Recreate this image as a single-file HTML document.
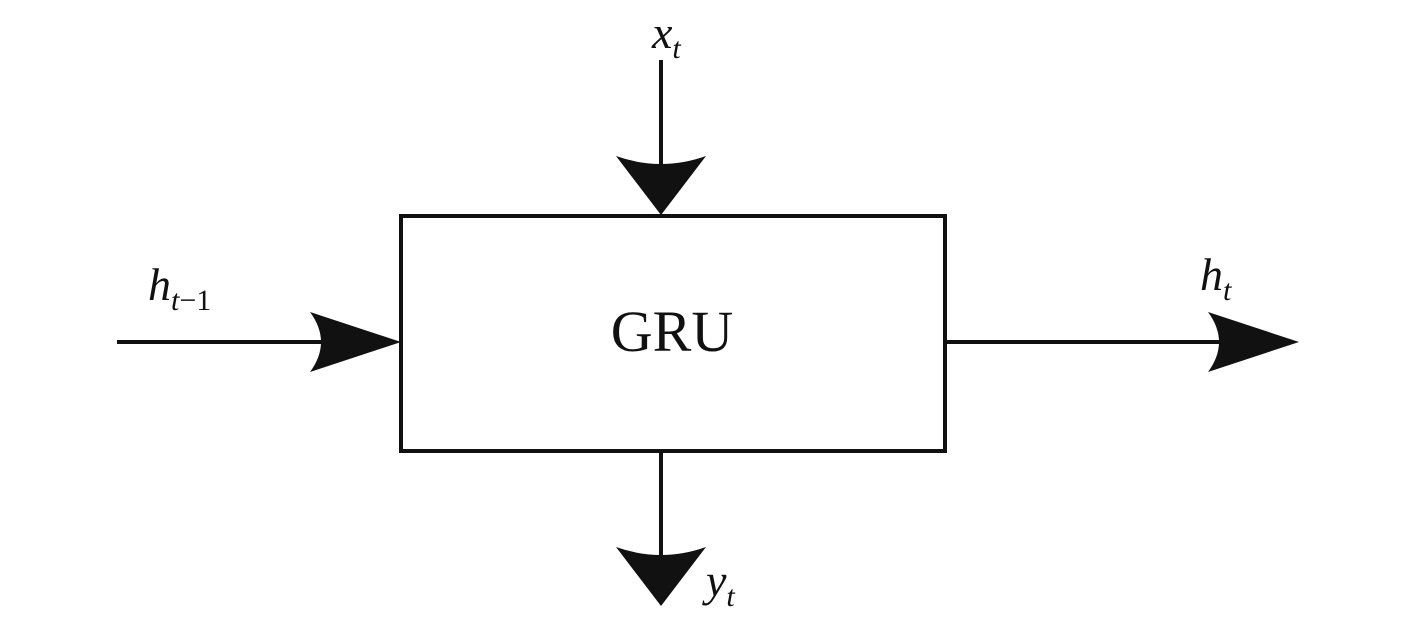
<!DOCTYPE html>
<html><head><style>body{margin:0;background:#fff}</style></head><body>
<svg width="1417" height="625" xmlns="http://www.w3.org/2000/svg" style="display:block">
<rect x="401" y="216" width="544" height="235" fill="none" stroke="#111" stroke-width="4"/>
<g stroke="#111" stroke-width="4" fill="none">
<line x1="117" y1="342" x2="330" y2="342"/>
<line x1="945" y1="342" x2="1225" y2="342"/>
<line x1="661" y1="60" x2="661" y2="170"/>
<line x1="661" y1="451" x2="661" y2="560"/>
</g>
<g fill="#111">
<path d="M401,342 L310,312 Q332,342 310,372 Z"/>
<path d="M1299,342 L1208,312 Q1230,342 1208,372 Z"/>
<path d="M661,215 L616,156 Q661,172 706,156 Z"/>
<path d="M661,606 L616,547 Q661,563 706,547 Z"/>
</g>
<g font-family="Liberation Serif, serif" fill="#111">
<text x="672" y="351" font-size="58" text-anchor="middle">GRU</text>
<text x="652" y="48" font-size="46" font-style="italic">x<tspan font-size="30" dy="10">t</tspan></text>
<text x="148" y="300" font-size="46" font-style="italic">h<tspan font-size="30" dy="10">t</tspan><tspan font-size="30" font-style="normal">−1</tspan></text>
<text x="1200" y="290" font-size="46" font-style="italic">h<tspan font-size="30" dy="10">t</tspan></text>
<text x="706" y="596" font-size="46" font-style="italic">y<tspan font-size="30" dy="10">t</tspan></text>
</g>
</svg>
</body></html>
